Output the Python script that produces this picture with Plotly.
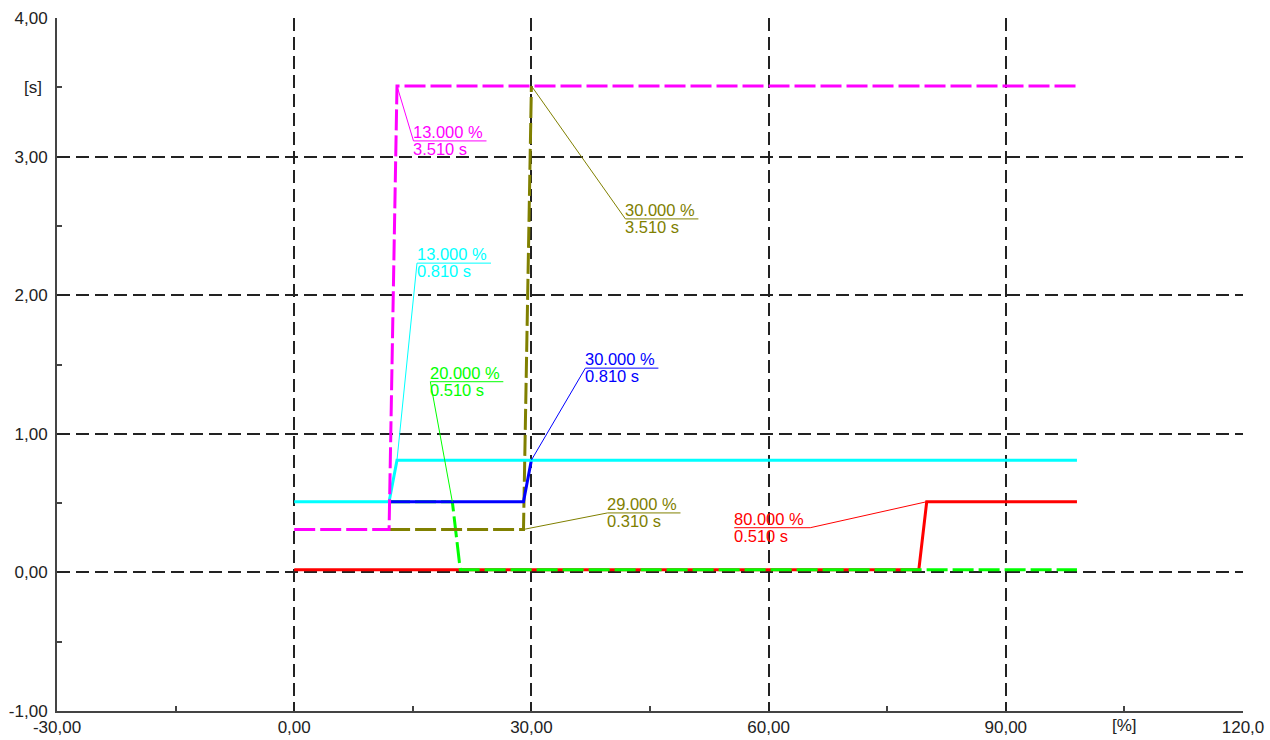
import plotly.graph_objects as go

# ---------------- data ----------------
mag_x = [0, 12, 13, 99]
mag_y = [0.31, 0.31, 3.51, 3.51]
oli_x = [12, 29, 30]
oli_y = [0.31, 0.31, 3.51]
cya_x = [0, 12, 13, 99]
cya_y = [0.51, 0.51, 0.81, 0.81]
blu_x = [12, 29, 30]
blu_y = [0.51, 0.51, 0.81]
grn_x = [12, 20, 21, 99]
grn_y = [0.51, 0.51, 0.02, 0.02]
red_x = [0, 79, 80, 99]
red_y = [0.02, 0.02, 0.51, 0.51]

x_tickvals = [-30, 0, 30, 60, 90, 120]
x_ticktext = ["-30,00", "0,00", "30,00", "60,00", "90,00", "120,0"]
y_tickvals = [-1, 0, 1, 2, 3, 4]
y_ticktext = ["-1,00", "0,00", "1,00", "2,00", "3,00", "4,00"]
x_minor = [-15, 15, 45, 75, 105]
y_minor = [-0.5, 0.5, 1.5, 2.5, 3.5]
x_unit, x_unit_pos = "[%]", 105
y_unit, y_unit_pos = "[s]", 3.5

MAG, OLI, CYA, BLU, GRN, RED = "#FF00FF", "#808000", "#00FFFF", "#0000FF", "#00FF00", "#FF0000"
FONT = "Liberation Sans, Arial, sans-serif"

fig = go.Figure()

def add(x, y, color, dash=None):
    fig.add_trace(go.Scatter(x=x, y=y, mode="lines", showlegend=False, hoverinfo="skip",
                             line=dict(color=color, width=3, dash=dash)))

add(red_x, red_y, RED)
add(grn_x, grn_y, GRN, "21px,5px")
add(oli_x, oli_y, OLI, "21px,5px")
add(blu_x, blu_y, BLU)
add(cya_x, cya_y, CYA)
add(mag_x, mag_y, MAG, "21px,5px")

# labels: (x, y, color, dx, dy, underline width, leader attaches to right end?)
labels = [
    (mag_x[2], mag_y[2], MAG, 16.5, -55, 73, False),
    (cya_x[2], cya_y[2], CYA, 20, 197, 74, False),
    (oli_x[2], oli_y[2], OLI, 94, -133, 73, False),
    (grn_x[1], grn_y[1], GRN, -22, 120, 73, False),
    (blu_x[2], blu_y[2], BLU, 54, 92, 73, False),
    (oli_x[1], oli_y[1], OLI, 84, 16.5, 73, False),
    (red_x[2], red_y[2], RED, -116.5, -26, 76, True),
]

shapes = []
annotations = []
for (px, py, c, dx, dy, w, right) in labels:
    left = dx - w if right else dx
    shapes.append(dict(type="line", xref="x", yref="y", xsizemode="pixel", ysizemode="pixel",
                       xanchor=px, yanchor=py, x0=0, y0=0, x1=dx, y1=dy,
                       line=dict(color=c, width=1)))
    shapes.append(dict(type="line", xref="x", yref="y", xsizemode="pixel", ysizemode="pixel",
                       xanchor=px, yanchor=py, x0=left, y0=dy, x1=left + w, y1=dy,
                       line=dict(color=c, width=1)))
    annotations.append(dict(x=px, y=py, xref="x", yref="y", text=f"{px:.3f} %", showarrow=False,
                            xanchor="left", yanchor="bottom", xshift=left - 1, yshift=dy - 1,
                            borderpad=0, font=dict(family=FONT, size=16.5, color=c)))
    annotations.append(dict(x=px, y=py, xref="x", yref="y", text=f"{py:.3f} s", showarrow=False,
                            xanchor="left", yanchor="top", xshift=left - 1, yshift=dy + 2,
                            borderpad=0, font=dict(family=FONT, size=16.5, color=c)))

annotations.append(dict(x=0, y=y_unit_pos, xref="paper", yref="y", text=y_unit, showarrow=False,
                        xanchor="right", yanchor="middle", xshift=-13,
                        font=dict(family=FONT, size=17, color="#222")))
annotations.append(dict(x=x_unit_pos, y=0, xref="x", yref="paper", text=x_unit, showarrow=False,
                        xanchor="center", yanchor="top", yshift=-3,
                        font=dict(family=FONT, size=17, color="#222")))

grid = dict(showgrid=True, gridcolor="#222222", gridwidth=1.5, griddash="13px,6px",
            zeroline=False, showline=True, linecolor="#444", linewidth=2, ticks="",
            automargin=False,
            tickfont=dict(family=FONT, size=17, color="#222"))

fig.update_layout(
    width=1270, height=740,
    margin=dict(l=57, r=27, t=18, b=29),
    paper_bgcolor="white", plot_bgcolor="white",
    shapes=shapes, annotations=annotations,
    xaxis=dict(range=[-30, 120], tickmode="array", tickvals=x_tickvals, ticktext=x_ticktext,
               minor=dict(tickmode="array", tickvals=x_minor, ticks="inside", ticklen=5,
                          tickcolor="#444", tickwidth=1.5, showgrid=False),
               ticklabelstandoff=0, **grid),
    yaxis=dict(range=[-1, 4], tickmode="array", tickvals=y_tickvals, ticktext=y_ticktext,
               minor=dict(tickmode="array", tickvals=y_minor, ticks="inside", ticklen=5,
                          tickcolor="#444", tickwidth=1.5, showgrid=False),
               ticklabelstandoff=4, **grid),
)

fig.write_html("out.html", config={"displayModeBar": False},
               post_script="document.body.style.margin='0';document.body.style.overflow='hidden';")
